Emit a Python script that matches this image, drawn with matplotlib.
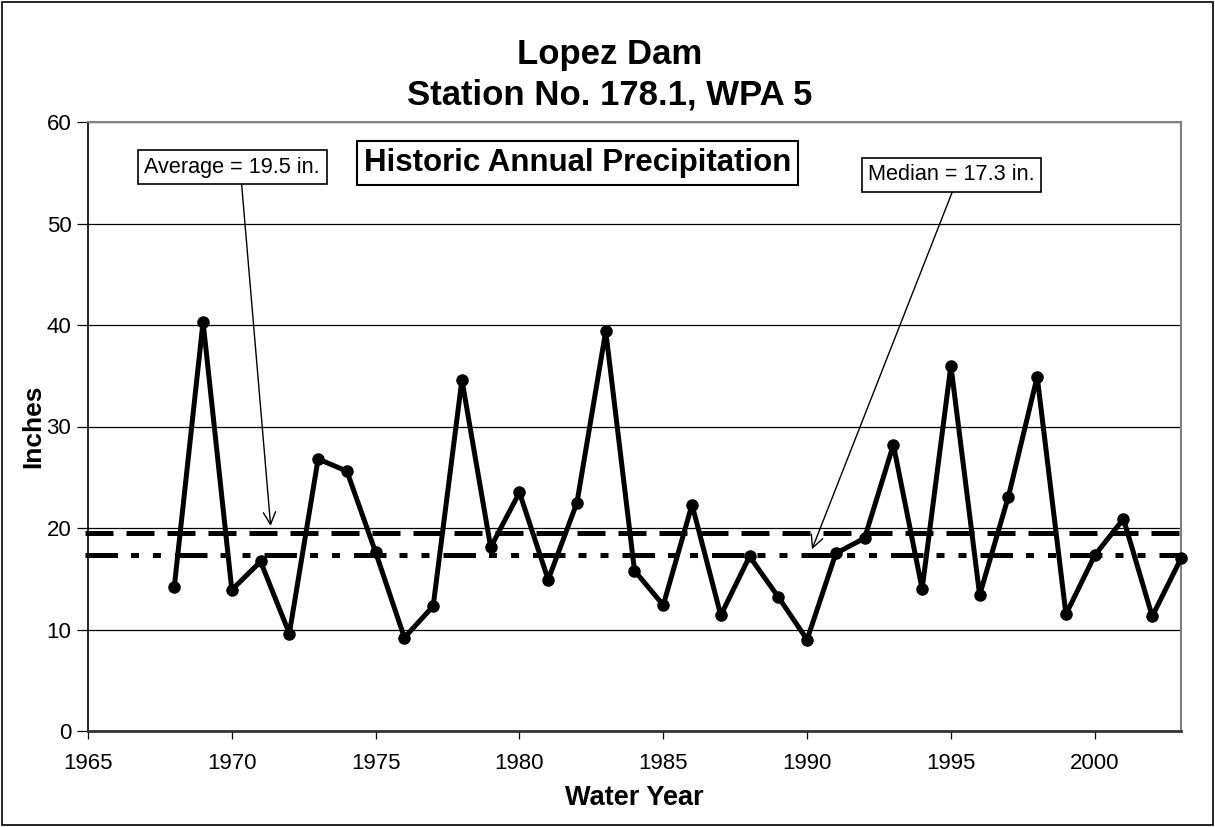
import matplotlib
matplotlib.use("Agg")
import matplotlib.pyplot as plt
from matplotlib.patches import Rectangle

plt.rcParams['font.family'] = ['Liberation Sans', 'DejaVu Sans']

years = list(range(1968, 2004))
precip = [14.2, 40.3, 13.9, 16.7, 9.6, 26.8, 25.6, 17.6, 9.2, 12.3,
          34.6, 18.1, 23.5, 14.9, 22.5, 39.4, 15.8, 12.4, 22.3, 11.4,
          17.2, 13.2, 9.0, 17.5, 19.0, 28.2, 14.0, 36.0, 13.4, 23.1,
          34.9, 11.5, 17.3, 20.9, 11.3, 17.0]
average = 19.5
median = 17.3
x_ticks = [1965, 1970, 1975, 1980, 1985, 1990, 1995, 2000]
y_ticks = [0, 10, 20, 30, 40, 50, 60]

fig = plt.figure(figsize=(12.15, 8.27), dpi=100)
ax = fig.add_axes([88/1215, 1-731/827, (1181-88)/1215, (731-122)/827])

ax.set_xlim(1965, 2003)
ax.set_ylim(0, 60)
ax.set_xticks(x_ticks)
ax.set_yticks(y_ticks)
ax.yaxis.grid(True, color='black', lw=0.9)
ax.set_axisbelow(True)

ax.tick_params(axis='both', labelsize=16, direction='out', color='black', width=0.9)
ax.tick_params(axis='y', length=8, pad=4)
ax.tick_params(axis='x', length=6, pad=10)

for s in ['top', 'right']:
    ax.spines[s].set_color('#808080')
    ax.spines[s].set_linewidth(1.5)
ax.spines['left'].set_color('black')
ax.spines['left'].set_linewidth(1.2)
ax.spines['bottom'].set_color('#333333')
ax.spines['bottom'].set_linewidth(2)

# reference lines
ax.axhline(average, xmin=-0.003, xmax=1, color='black', lw=3.6,
           linestyle=(0, (5.6, 2.6)), clip_on=False, zorder=3)
ax.axhline(median, xmin=-0.003, xmax=1, color='black', lw=3.6,
           linestyle=(0, (6.5, 2.6, 1.6, 2.8, 1.6, 2.8)), clip_on=False, zorder=3)

ax.plot(years, precip, color='black', lw=3.6, marker='o', markersize=8,
        zorder=4, clip_on=False)

ax.set_xlabel('Water Year', fontsize=19.5, fontweight='bold', labelpad=8)
ax.set_ylabel('Inches', fontsize=19, fontweight='bold', labelpad=1)

fig.text(0.502, 1-64/827, 'Lopez Dam', ha='center', va='baseline',
         fontsize=25, fontweight='bold')
fig.text(0.502, 1-104/827, 'Station No. 178.1, WPA 5', ha='center', va='baseline',
         fontsize=25, fontweight='bold')

box = dict(boxstyle='square,pad=0.3', fc='white', ec='black', lw=1.2)
ax.text(0.448, 0.933, 'Historic Annual Precipitation', transform=ax.transAxes,
        ha='center', va='center', fontsize=22.5, fontweight='bold',
        bbox=dict(boxstyle='square,pad=0.22', fc='white', ec='black', lw=1.5), zorder=6)

ax.annotate('Average = 19.5 in.', xy=(1971.35, 20.2), xycoords='data',
            xytext=(0.132, 0.926), textcoords='axes fraction',
            ha='center', va='center', fontsize=15.6, bbox=box, zorder=6,
            arrowprops=dict(arrowstyle='->', color='black', lw=1.0,
                            mutation_scale=22, shrinkA=0, shrinkB=0,
                            relpos=(0.55, 0.0)))
ax.annotate('Median = 17.3 in.', xy=(1990.17, 17.9), xycoords='data',
            xytext=(0.790, 0.913), textcoords='axes fraction',
            ha='center', va='center', fontsize=15.6, bbox=box, zorder=6,
            arrowprops=dict(arrowstyle='->', color='black', lw=1.0,
                            mutation_scale=22, shrinkA=0, shrinkB=0,
                            relpos=(0.52, 0.0)))

fig.patches.append(Rectangle((0.002, 0.002), 0.996, 0.996, transform=fig.transFigure,
                             fill=False, ec='black', lw=1.2))

fig.savefig('out.png', dpi=100)
